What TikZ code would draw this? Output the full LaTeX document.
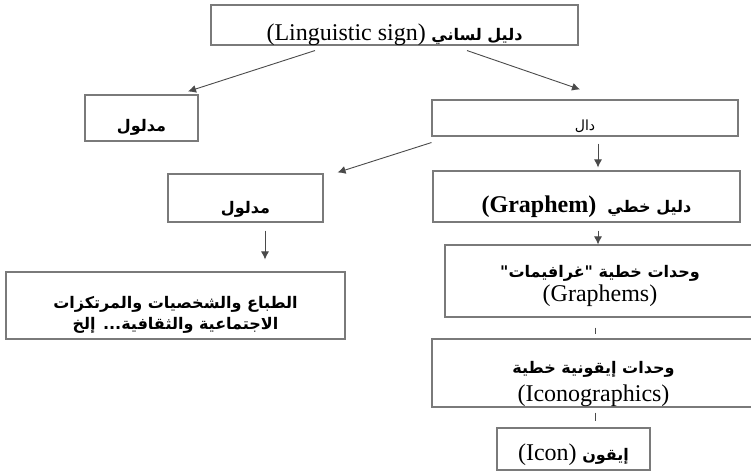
\documentclass[tikz,border=0pt]{standalone}
\usepackage{fontspec}
\setmainfont{Liberation Serif}
\newfontfamily\arabicfont[Script=Arabic]{DejaVu Sans}
\TeXXeTstate=1
\usetikzlibrary{arrows.meta}
\definecolor{boxgray}{HTML}{7A7A7A}
\definecolor{linegray}{HTML}{4A4A4A}

\newcommand{\artext}[1]{{\arabicfont\bfseries\fontsize{16}{22}\selectfont\beginR #1\endR}}
\newcommand{\latext}[1]{{\normalfont\fontsize{24}{28}\selectfont #1}}
\newcommand{\inbox}[2]{\raisebox{-#1pt}[0pt][0pt]{\begin{tabular}{@{}c@{}}#2\end{tabular}}}

\begin{document}
\begin{tikzpicture}[x=1pt,y=-1pt,
    box/.style={draw=boxgray, line width=1.1pt, inner sep=0pt,
      font=\fontsize{20}{24}\selectfont},
    arr/.style={draw=linegray, line width=0.9pt, -{Latex[length=8pt,width=8pt]}},
    link/.style={draw=linegray, line width=0.9pt}
  ]
  \useasboundingbox (0,0) rectangle (751,473);
  \clip (0,0) rectangle (751,473);

  % top level
  \node[box, minimum width=367pt, minimum height=40pt] (sign) at (394.5,25)
    {\inbox{15.5}{\artext{دليل لساني \beginL\latext{(Linguistic sign)}\endL}}};
  \node[box, minimum width=113pt, minimum height=46pt] (signified) at (141.5,118)
    {\inbox{13.5}{\artext{مدلول}}};
  \node[box, minimum width=306pt, minimum height=36pt] (signifier) at (585,118)
    {\inbox{12.5}{{\arabicfont\fontsize{14}{18}\selectfont\beginR دال\endR}}};

  % second level
  \node[box, minimum width=155pt, minimum height=48pt] (meaning) at (245.5,198)
    {\inbox{15.5}{\artext{مدلول}}};
  \node[box, minimum width=307pt, minimum height=51pt] (graphem) at (586.5,196.5)
    {\inbox{16}{\artext{دليل خطي \ \beginL\latext{\bfseries(Graphem)}\endL}}};
  \node[box, minimum width=339pt, minimum height=67pt] (traits) at (175.5,305.5)
    {\inbox{13.5}{\artext{الطباع والشخصيات والمرتكزات}\\[-3pt] \artext{الاجتماعية والثقافية... إلخ}}};

  % right column
  \node[box, minimum width=310pt, minimum height=72pt] (graphemes) at (600,281)
    {\inbox{9}{\artext{وحدات خطية "غرافيمات"}\\[0pt] \latext{(Graphems)}}};
  \node[box, minimum width=323pt, minimum height=68pt] (icono) at (593.5,373)
    {\inbox{14.5}{\artext{وحدات إيقونية خطية}\\[4pt] \latext{(Iconographics)}}};
  \node[box, minimum width=153pt, minimum height=42pt] (icon) at (573.5,449)
    {\inbox{11.5}{\artext{إيقون \beginL\latext{(Icon)}\endL}}};

  % connectors
  \draw[arr] ([xshift=-79.5pt,yshift=-5pt]sign.south) -- ([xshift=46.5pt,yshift=3pt]signified.north);
  \draw[arr] ([xshift=72.5pt,yshift=-5pt]sign.south) -- ([xshift=-5pt,yshift=10pt]signifier.north);
  \draw[arr] ([yshift=-6pt]signifier.south west) -- ([xshift=14pt,yshift=1pt]meaning.north east);
  \draw[arr] ([xshift=13pt,yshift=-7pt]signifier.south) -- ([xshift=11.5pt,yshift=3pt]graphem.north);
  \draw[arr] ([xshift=19.5pt,yshift=-8pt]meaning.south) -- ([xshift=89.5pt,yshift=12pt]traits.north);
  \draw[arr] ([xshift=11.5pt,yshift=-8pt]graphem.south) -- ([xshift=-2pt]graphemes.north);
  \draw[link] ([xshift=-5pt,yshift=-10pt]graphemes.south) -- ([xshift=1.5pt,yshift=4pt]icono.north);
  \draw[link] ([xshift=1.5pt,yshift=-5pt]icono.south) -- ([xshift=21.5pt,yshift=6pt]icon.north);
\end{tikzpicture}
\end{document}
